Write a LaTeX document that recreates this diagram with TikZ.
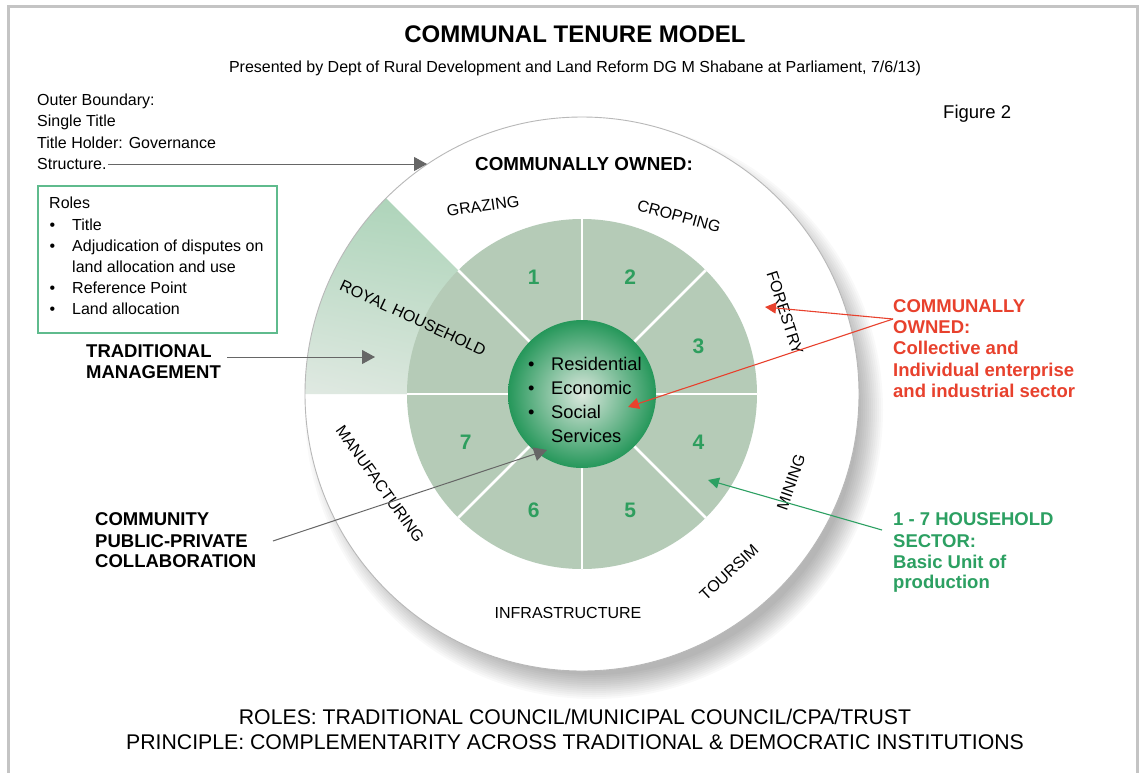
\documentclass[tikz,border=0pt]{standalone}
\usepackage{fontspec}
\setmainfont{Liberation Sans}
\usetikzlibrary{arrows.meta,calc,shadings}
\definecolor{framegrey}{HTML}{C4C4C4}
\definecolor{ringline}{HTML}{B8B8B8}
\definecolor{disk}{HTML}{B5CBB7}
\definecolor{numgreen}{HTML}{2E9E5E}
\definecolor{spherein}{HTML}{DCE8DE}
\definecolor{sphereout}{HTML}{25975A}
\definecolor{wedgeUL}{HTML}{B0D5BC}
\definecolor{wedgeUR}{HTML}{A9D2B5}
\definecolor{wedgeLL}{HTML}{E0E9E2}
\definecolor{wedgeLR}{HTML}{D0E2D4}
\definecolor{boxgreen}{HTML}{5FBB8D}
\definecolor{callred}{HTML}{E8412D}
\definecolor{callgreen}{HTML}{2CA062}
\definecolor{pointer}{HTML}{666666}

\begin{document}
\begin{tikzpicture}[x=1pt,y=-1pt,
  every node/.style={inner sep=0pt},
  plain/.style={anchor=base west, font=\fontsize{16}{19}\selectfont},
  heavy/.style={anchor=base west, font=\fontsize{18.5}{21}\selectfont\bfseries},
  ring/.style={font=\fontsize{16}{19}\selectfont},
  num/.style={font=\fontsize{21}{24}\selectfont\bfseries, text=numgreen},
  core/.style={anchor=base west, font=\fontsize{18.3}{21}\selectfont},
  greyptr/.style={draw=pointer, line width=1pt, -{Triangle[length=13pt,width=14pt]}},
  redptr/.style={draw=callred, line width=1.1pt, -{Triangle[length=11pt,width=11pt]}},
  greenptr/.style={draw=callgreen, line width=1.1pt, -{Triangle[length=11pt,width=11pt]}},
  divider/.style={draw=white, line width=2.5pt},
]
\clip (0,0) rectangle (1141,772);
\fill[white] (0,0) rectangle (1141,772);
% page frame, open at the bottom
\draw[framegrey, line width=3pt] (8.5,790) -- (8.5,6.5) -- (1137,6.5) -- (1137,790);

\coordinate (C) at (582,394);

% soft drop shadow of the outer ring
\foreach \r in {289,287,...,265}
  \fill[black, opacity=0.024] ($(C)+(12,16)$) circle[radius=\r*1pt];

% outer boundary: single title
\fill[white] (C) circle[radius=277pt];

% traditional management wedge
\shade[upper left=wedgeUL, upper right=wedgeUR, lower left=wedgeLL, lower right=wedgeLR]
  (C) -- ($(C)+(135:277pt)$) arc[start angle=135, end angle=180, radius=277pt] -- cycle;
\draw[ringline, line width=0.9pt] (C) circle[radius=277pt];

% household sectors
\fill[disk] (C) circle[radius=175pt];
\foreach \a in {0,45,...,315}
  \draw[divider] ($(C)+(\a:74pt)$) -- ($(C)+(\a:175pt)$);

\node[circle, minimum size=148pt, inner color=spherein, outer color=sphereout] (sphere) at (C) {};

\foreach \n/\a in {1/112.5,2/67.5,3/22.5,4/-22.5,5/-67.5,6/-112.5,7/-157.5}
  \node[num] (n\n) at ($(C)+(\a:126pt)$) {\n};

% ring labels
\node[font=\fontsize{18.8}{21}\selectfont\bfseries] (owned) at (584,164) {COMMUNALLY OWNED:};
\node[ring, rotate=8] (grazing) at (483,206) {GRAZING};
\node[ring, rotate=-15] (cropping) at (679,216) {CROPPING};
\node[ring, rotate=-72] (forestry) at (785,313) {FORESTRY};
\node[ring, rotate=71] (mining) at (791,482) {MINING};
\node[ring, rotate=43] (toursim) at (729,572) {TOURSIM};
\node[ring] (infra) at (568,613) {INFRASTRUCTURE};
\node[ring, rotate=-54.5] (manuf) at (380,484) {MANUFACTURING};
\node[ring, rotate=-25] (royal) at (413,318) {ROYAL HOUSEHOLD};

% centre: residential core
\foreach \y/\t [count=\k] in {370/Residential,394/Economic,418/Social}{
  \node[core] (cb\k) at (528,\y) {•};
  \node[core] (ct\k) at (551,\y) {\t};
}
\node[core] (ct4) at (551,442) {Services};

% headings
\node[font=\fontsize{24}{27}\selectfont\bfseries, anchor=base] (title) at (575,42) {COMMUNAL TENURE MODEL};
\node[font=\fontsize{16}{19}\selectfont, anchor=base] (sub) at (575,72)
  {Presented by Dept of Rural Development and Land Reform DG M Shabane at Parliament, 7/6/13)};
\node[font=\fontsize{18.5}{21}\selectfont, anchor=base west] (fig) at (943,118) {Figure 2};

% outer boundary note
\node[plain] (ob1) at (37,105) {Outer Boundary:};
\node[plain] (ob2) at (37,126) {Single Title};
\node[plain] (ob3) at (37,148) {Title Holder: Governance};
\node[plain] (ob4) at (37,169) {Structure.};

% roles box
\node[draw=boxgreen, line width=1.5pt, minimum width=239pt, minimum height=147pt, anchor=north west] (rolesbox) at (37,185) {};
\node[plain] (r0) at (49,208) {Roles};
\foreach \y/\t [count=\k] in {230/Title,251/Adjudication of disputes on,293/Reference Point,314/Land allocation}{
  \node[plain] (rb\k) at (49.5,\y) {•};
  \node[plain] (rt\k) at (72,\y) {\t};
}
\node[plain] (rt5) at (72,272) {land allocation and use};

% side captions
\node[heavy] (tm1) at (86,357) {TRADITIONAL};
\node[heavy] (tm2) at (86,378) {MANAGEMENT};
\node[heavy] (cp1) at (95,525) {COMMUNITY};
\node[heavy] (cp2) at (95,547) {PUBLIC-PRIVATE};
\node[heavy] (cp3) at (95,567) {COLLABORATION};

\node[heavy, text=callred] (co1) at (893,312) {COMMUNALLY};
\node[heavy, text=callred] (co2) at (893,333) {OWNED:};
\node[heavy, text=callred] (co3) at (893,354) {Collective and};
\node[heavy, text=callred] (co4) at (893,376) {Individual enterprise};
\node[heavy, text=callred] (co5) at (893,397) {and industrial sector};

\node[heavy, text=callgreen] (hs1) at (893,525) {1 - 7 HOUSEHOLD};
\node[heavy, text=callgreen] (hs2) at (893,547) {SECTOR:};
\node[heavy, text=callgreen] (hs3) at (893,568) {Basic Unit of};
\node[heavy, text=callgreen] (hs4) at (893,588) {production};

% footer
\node[font=\fontsize{21.25}{24}\selectfont, anchor=base] (roles) at (575,724) {ROLES: TRADITIONAL COUNCIL/MUNICIPAL COUNCIL/CPA/TRUST};
\node[font=\fontsize{21.25}{24}\selectfont, anchor=base] (principle) at (575,749) {PRINCIPLE: COMPLEMENTARITY ACROSS TRADITIONAL \& DEMOCRATIC INSTITUTIONS};

% pointers
\coordinate (structFrom) at (108,164);
\coordinate (structTo) at (427,164);
\coordinate (tradFrom) at (227,357);
\coordinate (tradTo) at (375,357);
\coordinate (commFrom) at (273,541);
\coordinate (commTo) at (547,450);
\coordinate (redFrom) at (893,319);
\coordinate (redTo1) at (765,307);
\coordinate (redTo2) at (628,407);
\coordinate (greenFrom) at (882,530);
\coordinate (greenTo) at (708,480);

\draw[greyptr] (structFrom) -- (structTo);
\draw[greyptr] (tradFrom) -- (tradTo);
\draw[greyptr] (commFrom) -- (commTo);
\draw[redptr] (redFrom) -- (redTo1);
\draw[redptr] (redFrom) -- (redTo2);
\draw[greenptr] (greenFrom) -- (greenTo);
\end{tikzpicture}
\end{document}
